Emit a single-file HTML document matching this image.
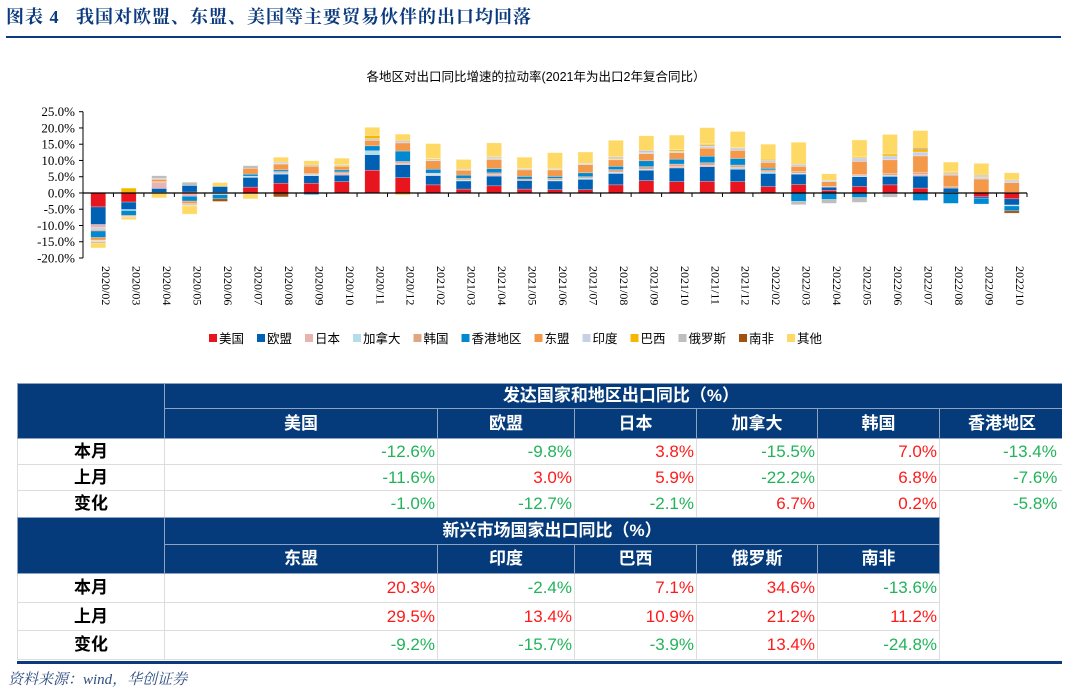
<!DOCTYPE html>
<html><head><meta charset="utf-8">
<style>
body{margin:0;width:1073px;height:695px;background:#fff;position:relative;overflow:hidden;font-family:"Liberation Sans","Noto Sans CJK SC",sans-serif}
.title{position:absolute;left:6px;top:3px;font-family:"Liberation Serif","Noto Serif CJK SC",serif;font-weight:bold;font-size:18px;color:#0b3a7e;letter-spacing:1px;white-space:nowrap}
.rule{position:absolute;left:6px;width:1055px;height:2px;background:#0b3a7e}
.clip{position:absolute;left:17px;width:1045px;overflow:hidden}
table{border-collapse:collapse;table-layout:fixed;font-size:17px;line-height:18px}
td{border:1px solid #ddd;height:25px;padding:0 2px;white-space:nowrap;overflow:hidden;box-sizing:border-box}
td.h{background:#053b7a;color:#fff;font-weight:bold;text-align:center;border-color:#8ea3c2}
td.l{font-weight:bold;text-align:center;color:#000}
td.g{color:#22b35a;text-align:right}
td.r{color:#ff1a1a;text-align:right}
.src{position:absolute;left:8px;top:668px;font-family:"Liberation Serif","Noto Serif CJK SC",serif;font-style:italic;font-size:15px;color:#2f4f80}
</style></head><body>
<div class="title">图表 4&nbsp;&nbsp;&nbsp;我国对欧盟、东盟、美国等主要贸易伙伴的出口均回落</div>
<div class="rule" style="top:36px"></div>
<svg id="chart" width="1073" height="360" style="position:absolute;left:0;top:0"></svg>

<div class="clip" style="top:383px;height:134px">
<table style="width:1060px">
<colgroup><col style="width:147px"><col style="width:273px"><col style="width:137px"><col style="width:122px"><col style="width:121px"><col style="width:122px"><col style="width:138px"></colgroup>
<tr style="height:25px"><td class="h" rowspan="2"></td><td class="h" colspan="6">发达国家和地区出口同比（%）</td></tr>
<tr style="height:30px"><td class="h">美国</td><td class="h">欧盟</td><td class="h">日本</td><td class="h">加拿大</td><td class="h">韩国</td><td class="h" style="text-align:left;padding-left:28px">香港地区</td></tr>
<tr style="height:26px"><td class="l">本月</td><td class="g">-12.6%</td><td class="g">-9.8%</td><td class="r">3.8%</td><td class="g">-15.5%</td><td class="r">7.0%</td><td class="g" style="text-align:left;padding-left:63px">-13.4%</td></tr>
<tr style="height:26px"><td class="l">上月</td><td class="g">-11.6%</td><td class="r">3.0%</td><td class="r">5.9%</td><td class="g">-22.2%</td><td class="r">6.8%</td><td class="g" style="text-align:left;padding-left:73px">-7.6%</td></tr>
<tr style="height:27px"><td class="l">变化</td><td class="g">-1.0%</td><td class="g">-12.7%</td><td class="g">-2.1%</td><td class="r">6.7%</td><td class="r">0.2%</td><td class="g" style="text-align:left;padding-left:73px">-5.8%</td></tr>
</table>
</div>

<div class="clip" style="top:517px;height:143px">
<table style="width:922px">
<colgroup><col style="width:147px"><col style="width:273px"><col style="width:137px"><col style="width:122px"><col style="width:121px"><col style="width:122px"></colgroup>
<tr style="height:27px"><td class="h" rowspan="2"></td><td class="h" colspan="5">新兴市场国家出口同比（%）</td></tr>
<tr style="height:29px"><td class="h">东盟</td><td class="h">印度</td><td class="h">巴西</td><td class="h">俄罗斯</td><td class="h">南非</td></tr>
<tr style="height:29px"><td class="l">本月</td><td class="r">20.3%</td><td class="g">-2.4%</td><td class="r">7.1%</td><td class="r">34.6%</td><td class="g">-13.6%</td></tr>
<tr style="height:28px"><td class="l">上月</td><td class="r">29.5%</td><td class="r">13.4%</td><td class="r">10.9%</td><td class="r">21.2%</td><td class="r">11.2%</td></tr>
<tr style="height:29px"><td class="l">变化</td><td class="g">-9.2%</td><td class="g">-15.7%</td><td class="g">-3.9%</td><td class="r">13.4%</td><td class="g">-24.8%</td></tr>
</table>
</div>
<div class="rule" style="top:661px;left:17px;width:1045px;height:3px"></div>
<div class="src">资料来源：wind，华创证券</div>

<script>
const categories=["2020/02","2020/03","2020/04","2020/05","2020/06","2020/07","2020/08","2020/09","2020/10","2020/11","2020/12","2021/02","2021/03","2021/04","2021/05","2021/06","2021/07","2021/08","2021/09","2021/10","2021/11","2021/12","2022/02","2022/03","2022/04","2022/05","2022/06","2022/07","2022/08","2022/09","2022/10"];
const seriesNames=["美国","欧盟","日本","加拿大","韩国","香港地区","东盟","印度","巴西","俄罗斯","南非","其他"];
const seriesColors=["#e8141e","#0060b4","#e8b3b3","#b4dceb","#e1a785","#0088d0","#f4984a","#c8d0e6","#f5b800","#bebebe","#a0520f","#ffd966"];
const usV=[-4.3,-2.8,0.2,0.3,0.2,1.8,3,3,3.5,7,4.7,2.5,1.2,2.2,1.2,1,1,2.5,3.8,3.5,3.6,3.5,2,2.6,0.8,2,2.5,1.5,0.2,-1.2,-1.8];
const euV=[-5.4,-2.3,1.2,2.0,1.8,3.0,2.8,2.3,2,4.8,4,2.8,2.5,3,2.6,2.7,3.2,3.5,3.2,4.2,4.5,3.8,4,3.2,1,3,2.6,3.7,1.3,-0.4,-1.9];
const jpV=[-1,0,1.8,-1,0,0,0,0,0.5,0,0.5,0.3,0,0.5,0,0,0,0,0,0.4,0.4,0,0,0,0.2,0,0,0.5,0,0,0.2];
const caV=[-0.5,-0.3,0,0,-0.5,0.4,0.4,0.4,0,1.2,0,0.5,0.3,0,0,0.3,0.4,0.4,0.3,0,0,0.5,0.5,0.3,0,0.3,0.3,0,0,0,-0.3];
const krV=[-0.5,0,0.4,0,0,0,0.4,0.3,0.5,0,0.5,0,0.5,0.5,0.5,0.5,0.4,0.8,0.8,0.8,0.8,0.8,0.6,0.5,0,0.4,0.6,0.7,0.4,0,0];
const hkV=[-2,-1.5,0,-1.5,-1.3,0.6,0.5,-0.5,0.6,1.5,3.2,1.2,1,1.3,0.8,0.6,1.2,1,1.8,1.5,2,2,0.5,-2.6,-2,-1.4,-0.3,-2.3,-3.2,-1.8,-1.5];
const aseanV=[-0.8,-0.3,0.6,-0.8,0,1.8,1.8,2.2,1,1.7,2.5,2.6,1.5,2.8,2,2,2.5,2,2.2,2,2.5,2.5,1.8,1.6,1.5,4,4.2,5,3.6,4.3,3];
const inV=[-0.3,0,0.3,-0.5,0,0,0.3,0,0,0.5,0.5,0.3,0.3,0.4,0.4,0.3,0.4,0.3,0.5,0.5,0.6,0.5,0.6,0.6,0.4,1.1,1.2,1.2,0.4,0.5,0.5];
const brV=[-0.2,1.5,0,-0.2,0,0,0,0,0.3,1,-0.5,0.3,0,0.2,0,0,0,0.3,0,0.4,0.4,0,0.4,0.3,0,0.3,0.6,0.8,0.3,0.2,0];
const ruV=[-0.2,-0.2,0.8,1.0,0,0.8,0.3,0.4,0.3,0,0,0.2,0,0.3,0,0,0,0.4,0.5,0,0.3,0.3,0,-1,-1.2,-1.5,-1,0,0.3,0.5,0.3];
const saV=[-0.2,0,0,0,-0.8,-0.3,-1.2,0,0,0,0.2,0,0,0,0,0,0,0,0,0,0,0,0,0,0,0,0,0.3,0,0,-0.7];
const otherV=[-1.5,-0.8,-1.5,-2.5,1.2,-1.5,1.5,1.3,2,2.5,2,4.5,3,4.2,3.5,5,3.5,5,4.5,4.5,5,5,4.6,6.5,2,5.2,6,5.5,3,3.6,2.2];
const yTicks=[25,20,15,10,5,0,-5,-10,-15,-20];
const seriesValues=[usV,euV,jpV,caV,krV,hkV,aseanV,inV,brV,ruV,saV,otherV];

const svg=document.getElementById('chart');
const NS='http://www.w3.org/2000/svg';
const left=83,right=1027,yTop=111.7,yBot=258,vMax=25,vMin=-20;
const y=v=>yTop+(vMax-v)*(yBot-yTop)/(vMax-vMin);
const step=(right-left)/categories.length;
const xc=i=>left+step*(i+0.5);
const bw=15;
function mk(tag,attrs,parent){const e=document.createElementNS(NS,tag);for(const k in attrs)e.setAttribute(k,attrs[k]);(parent||svg).appendChild(e);return e;}

const t=mk('text',{x:536,y:81,'text-anchor':'middle','font-size':'12.5',fill:'#000'});
t.textContent='各地区对出口同比增速的拉动率(2021年为出口2年复合同比）';



mk('line',{x1:left,y1:yTop,x2:left,y2:yBot,stroke:'#000','stroke-width':1});
yTicks.forEach(v=>{
  mk('line',{x1:left-4,y1:y(v),x2:left,y2:y(v),stroke:'#000'});
  const tx=mk('text',{x:left-8,y:y(v)+4.5,'text-anchor':'end','font-size':'13','font-family':'Liberation Serif, serif',fill:'#000'});
  tx.textContent=v.toFixed(1)+'%';
  
  
});

categories.forEach((c,i)=>{
  let pos=0,neg=0;
  seriesValues.forEach((arr,s)=>{
    const v=arr[i];if(!v)return;
    let y0,y1;
    if(v>0){y0=y(pos+v);y1=y(pos);pos+=v;}else{y0=y(neg);y1=y(neg+v);neg+=v;}
    const r=mk('rect',{x:xc(i)-bw/2,y:y0,width:bw,height:Math.max(0.5,y1-y0),fill:seriesColors[s],stroke:'#fff','stroke-opacity':0.5,'stroke-width':0.5});
    
    
  });
  mk('line',{x1:left+step*(i+1),y1:y(0),x2:left+step*(i+1),y2:y(0)+4,stroke:'#000'});
  const lx=xc(i)+4,ly=266;
  const tx=mk('text',{x:lx,y:ly,'font-size':'12','font-family':'Liberation Serif, serif',fill:'#000',transform:`rotate(90 ${lx} ${ly})`});
  tx.textContent=c;
  
  
});
mk('line',{x1:left,y1:y(0),x2:right,y2:y(0),stroke:'#000','stroke-width':1.2});

let lx=209;
seriesNames.forEach((n,s)=>{
  const g=mk('g',{});
  
  
  mk('rect',{x:lx,y:334,width:8,height:8,fill:seriesColors[s]},g);
  const tx=mk('text',{x:lx+10,y:343,'font-size':'12.5',fill:'#000'},g);
  tx.textContent=n;
  lx+=10+n.length*12.5+13;
});
</script>
</body></html>
